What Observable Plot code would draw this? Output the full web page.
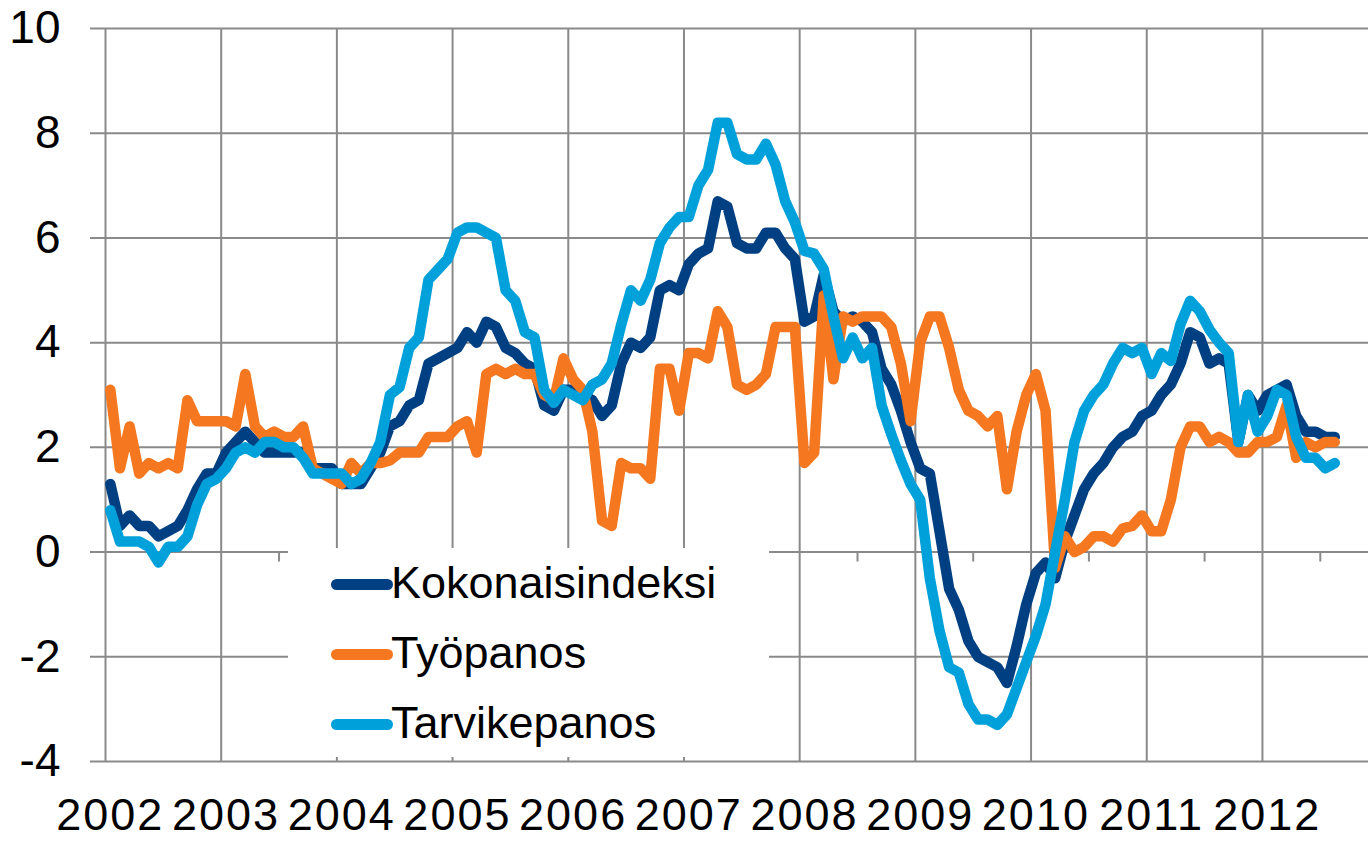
<!DOCTYPE html>
<html>
<head>
<meta charset="utf-8">
<script src="https://cdn.jsdelivr.net/npm/d3@7"></script>
<script src="https://cdn.jsdelivr.net/npm/@observablehq/plot@0.6"></script>
<style>
  html, body { margin: 0; padding: 0; background: #fff; }
  #wrap { position: relative; width: 1368px; height: 841px; overflow: hidden; }
  #wrap svg { display: block; }
  g[aria-label="x-axis tick label"] text { letter-spacing: 2px; }
  #legend { position: absolute; left: 288px; top: 548px; width: 481px; height: 209px; background: #fff;
            font-family: 'Liberation Sans', Arial, sans-serif; font-size: 45px; color: #000; }
  .row { position: absolute; left: 43px; height: 45px; display: flex; align-items: center; }
  .sw { width: 62px; height: 11px; border-radius: 6px; margin-right: -2px; }
  .lab { line-height: 45px; position: relative; top: -2px; white-space: nowrap; }
</style>
</head>
<body>
<div id="wrap"></div>
<script>
// ---- data (monthly, Jan 2002 – Aug 2012, annual change %) ----
const startYear = 2002;
const seriesNames = ["Kokonaisindeksi", "Työpanos", "Tarvikepanos"];
const seriesColors = ["#004082", "#f5771f", "#00a1db"];

const kokonaisindeksi = [
  1.3, 0.5, 0.7, 0.5, 0.5, 0.3, 0.4, 0.5, 0.8, 1.2, 1.5, 1.5,
  1.9, 2.1, 2.3, 2.1, 1.9, 1.9, 1.9, 1.9, 1.9, 1.6, 1.6, 1.6,
  1.3, 1.3, 1.3, 1.6, 1.9, 2.4, 2.5, 2.8, 2.9, 3.6, 3.7, 3.8,
  3.9, 4.2, 4.0, 4.4, 4.3, 3.9, 3.8, 3.6, 3.5, 2.8, 2.7, 3.1,
  3.1, 3.0, 2.9, 2.6, 2.8, 3.6, 4.0, 3.9, 4.1, 5.0, 5.1, 5.0,
  5.5, 5.7, 5.8, 6.7, 6.6, 5.9, 5.8, 5.8, 6.1, 6.1, 5.8, 5.6,
  4.4, 4.5, 5.3, 4.6, 4.4, 4.5, 4.4, 4.2, 3.5, 3.2, 2.7, 2.1,
  1.6, 1.5, 0.4, -0.7, -1.1, -1.7, -2.0, -2.1, -2.2, -2.5, -1.8, -1.0,
  -0.4, -0.2, -0.5, 0.2, 0.7, 1.2, 1.5, 1.7, 2.0, 2.2, 2.3, 2.6,
  2.7, 3.0, 3.2, 3.6, 4.2, 4.1, 3.6, 3.7, 3.6, 2.1, 3.0, 2.7,
  3.0, 3.1, 3.2, 2.6, 2.3, 2.3, 2.2, 2.2
];
const tyopanos = [
  3.1, 1.6, 2.4, 1.5, 1.7, 1.6, 1.7, 1.6, 2.9, 2.5, 2.5, 2.5,
  2.5, 2.4, 3.4, 2.4, 2.2, 2.3, 2.2, 2.2, 2.4, 1.6, 1.5, 1.4,
  1.3, 1.7, 1.5, 1.7, 1.7, 1.75, 1.9, 1.9, 1.9, 2.2, 2.2, 2.2,
  2.4, 2.5, 1.9, 3.4, 3.5, 3.4, 3.5, 3.4, 3.4, 3.0, 2.9, 3.7,
  3.3, 3.1, 2.3, 0.6, 0.5, 1.7, 1.6, 1.6, 1.4, 3.5, 3.5, 2.7,
  3.8, 3.8, 3.7, 4.6, 4.3, 3.2, 3.1, 3.2, 3.4, 4.3, 4.3, 4.3,
  1.7, 1.9, 4.9, 3.3, 4.5, 4.4, 4.5, 4.5, 4.5, 4.3, 3.6, 2.5,
  4.0, 4.5, 4.5, 3.9, 3.1, 2.7, 2.6, 2.4, 2.6, 1.2, 2.3, 3.0,
  3.4, 2.7, -0.3, 0.3, 0.0, 0.1, 0.3, 0.3, 0.2, 0.45, 0.5, 0.7,
  0.4, 0.4, 1.0, 2.0, 2.4, 2.4, 2.1, 2.2, 2.1, 1.9, 1.9, 2.1,
  2.1, 2.2, 2.8, 1.8, 2.1, 2.0, 2.1, 2.1
];
const tarvikepanos = [
  0.8, 0.2, 0.2, 0.2, 0.1, -0.2, 0.1, 0.1, 0.3, 0.9, 1.3, 1.4,
  1.6, 1.9, 2.0, 1.9, 2.1, 2.1, 2.0, 2.0, 1.8, 1.5, 1.5, 1.5,
  1.5, 1.3, 1.4, 1.7, 2.1, 3.0, 3.15, 3.9, 4.1, 5.2, 5.4, 5.6,
  6.1, 6.2, 6.2, 6.1, 6.0, 5.0, 4.8, 4.2, 4.1, 3.1, 2.85, 3.1,
  3.0, 2.9, 3.2, 3.3, 3.6, 4.35, 5.0, 4.8, 5.2, 5.9, 6.2, 6.4,
  6.4, 7.0, 7.3, 8.2, 8.2, 7.6, 7.5, 7.5, 7.8, 7.4, 6.7, 6.3,
  5.75, 5.7, 5.4, 4.5, 3.7, 4.1, 3.7, 3.9, 2.8, 2.25, 1.75, 1.3,
  1.0, -0.5, -1.5, -2.2, -2.3, -2.9, -3.2, -3.2, -3.3, -3.1, -2.6, -2.1,
  -1.6, -1.0, 0.0, 1.0, 2.1, 2.7, 3.0, 3.2, 3.6, 3.9, 3.8, 3.9,
  3.4, 3.8, 3.65, 4.35, 4.8, 4.6, 4.25, 4.0, 3.8, 2.1, 3.0, 2.3,
  2.6, 3.1, 3.0, 2.2, 1.8, 1.8, 1.6, 1.7
];
const yearLabels = [2002, 2003, 2004, 2005, 2006, 2007, 2008, 2009, 2010, 2011, 2012];
const yTicks = [-4, -2, 0, 2, 4, 6, 8, 10];

// ---- build table ----
const seriesValues = [kokonaisindeksi, tyopanos, tarvikepanos];
const rows = seriesValues.flatMap((vals, s) =>
  vals.map((v, i) => ({ series: seriesNames[s], t: startYear + (i + 0.5) / 12, value: v }))
);
const midYears = yearLabels.map(y => y + 0.5);
const labelPos = yearLabels.map(y => y + 0.5 / 12);
const grid = "#8a8a8a";

const chart = Plot.plot({
  width: 1368,
  height: 841,
  marginLeft: 90,
  marginRight: 0,
  marginTop: 28,
  marginBottom: 80,
  style: { fontFamily: "'Liberation Sans', Arial, sans-serif", background: "#fff", color: "#000" },
  x: { domain: [2001.8704, 2012.9166], axis: null, label: null },
  y: { domain: [-4, 10], axis: null, label: null },
  color: { domain: seriesNames, range: seriesColors },
  marks: [
    Plot.ruleY(yTicks, { stroke: grid, strokeWidth: 2 }),
    Plot.ruleX(yearLabels, { y1: -4, y2: 10, stroke: grid, strokeWidth: 2 }),
    Plot.ruleX(midYears, { y1: 0, y2: -0.19, stroke: grid, strokeWidth: 2 }),
    Plot.line(rows, {
      x: "t", y: "value", z: "series", stroke: "series",
      strokeWidth: 10.5, strokeLinejoin: "round", strokeLinecap: "round"
    }),
    Plot.axisY(yTicks, { label: null, tickSize: 0, tickPadding: 30, fontSize: 46, tickFormat: d => String(d) }),
    Plot.axisX(labelPos, { label: null, tickSize: 0, tickPadding: 37, fontSize: 45, tickFormat: d => String(Math.floor(d)) })
  ]
});

const wrap = document.getElementById("wrap");
wrap.appendChild(chart);

// ---- legend (inside plot area, white box) ----
const legend = document.createElement("div");
legend.id = "legend";
const rowTops = [13.5, 83.5, 153.5];
seriesNames.forEach((name, k) => {
  const r = document.createElement("div");
  r.className = "row";
  r.style.top = rowTops[k] + "px";
  const sw = document.createElement("div");
  sw.className = "sw";
  sw.style.background = seriesColors[k];
  const lab = document.createElement("span");
  lab.className = "lab";
  lab.textContent = name;
  r.appendChild(sw);
  r.appendChild(lab);
  legend.appendChild(r);
});
wrap.appendChild(legend);
</script>
</body>
</html>
